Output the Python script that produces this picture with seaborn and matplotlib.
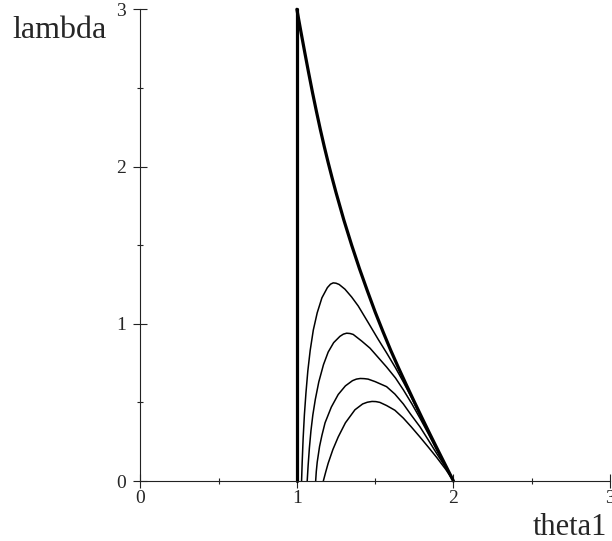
import matplotlib
matplotlib.use('Agg')
import matplotlib.pyplot as plt
import seaborn as sns
from matplotlib.ticker import FixedLocator

sns.set_style('white')
plt.rcParams['font.family'] = ['Liberation Serif', 'DejaVu Serif']

# ---------------- data ----------------
wall_theta = [1.0, 1.0]
wall_lambda = [0.0, 3.0]

env_theta = [1.000, 1.025, 1.050, 1.075, 1.100, 1.125, 1.150, 1.175, 1.200, 1.225,
             1.250, 1.300, 1.350, 1.400, 1.450, 1.500, 1.550, 1.600, 1.650, 1.700,
             1.750, 1.800, 1.850, 1.900, 1.950, 2.000]
env_lambda = [3.000, 2.862, 2.728, 2.597, 2.470, 2.350, 2.235, 2.127, 2.025, 1.928,
              1.835, 1.660, 1.500, 1.350, 1.210, 1.075, 0.950, 0.830, 0.718, 0.610,
              0.504, 0.400, 0.298, 0.198, 0.099, 0.000]

a_theta = [1.030, 1.034, 1.040, 1.048, 1.058, 1.070, 1.085, 1.105, 1.130, 1.160,
           1.195, 1.215, 1.232, 1.250, 1.270, 1.307, 1.350, 1.392, 1.456, 1.520,
           1.573, 1.630, 1.680, 1.735, 1.786, 1.840, 1.893, 1.950, 2.000]
a_lambda = [0.00, 0.12, 0.27, 0.42, 0.56, 0.70, 0.83, 0.96, 1.07, 1.165,
            1.23, 1.252, 1.26, 1.258, 1.25, 1.22, 1.17, 1.113, 1.007, 0.90,
            0.815, 0.72, 0.63, 0.525, 0.42, 0.31, 0.205, 0.097, 0.00]

b_theta = [1.066, 1.072, 1.080, 1.090, 1.102, 1.118, 1.140, 1.170, 1.200, 1.235,
           1.275, 1.297, 1.318, 1.340, 1.360, 1.414, 1.467, 1.520, 1.573, 1.630,
           1.680, 1.735, 1.786, 1.840, 1.893, 1.950, 2.000]
b_lambda = [0.00, 0.10, 0.21, 0.32, 0.42, 0.52, 0.63, 0.74, 0.82, 0.88,
            0.92, 0.934, 0.94, 0.938, 0.932, 0.89, 0.845, 0.785, 0.725, 0.655,
            0.58, 0.49, 0.40, 0.30, 0.197, 0.095, 0.00]

c_theta = [1.120, 1.124, 1.130, 1.145, 1.160, 1.180, 1.220, 1.264, 1.310, 1.355,
           1.380, 1.405, 1.430, 1.455, 1.500, 1.573, 1.626, 1.680, 1.730, 1.786,
           1.840, 1.893, 1.950, 2.000]
c_lambda = [0.00, 0.06, 0.12, 0.22, 0.29, 0.37, 0.47, 0.55, 0.605, 0.638,
            0.648, 0.652, 0.651, 0.648, 0.632, 0.60, 0.553, 0.49, 0.42, 0.345,
            0.26, 0.175, 0.087, 0.00]

d_theta = [1.169, 1.177, 1.185, 1.200, 1.230, 1.264, 1.310, 1.371, 1.420, 1.450,
           1.480, 1.505, 1.530, 1.573, 1.626, 1.680, 1.730, 1.786, 1.840, 1.893,
           1.950, 2.000]
d_lambda = [0.00, 0.03, 0.06, 0.113, 0.20, 0.28, 0.37, 0.453, 0.49, 0.501,
            0.506, 0.505, 0.50, 0.48, 0.45, 0.40, 0.345, 0.28, 0.215, 0.15,
            0.075, 0.00]

major_ticks = [0, 1, 2, 3]
minor_ticks = [0.5, 1.5, 2.5]
x_label = 'theta1'
y_label = 'lambda'

# ---------------- figure ----------------
W, H = 612, 541
fig = plt.figure(figsize=(W / 100, H / 100), dpi=100)
x0, x3 = 140.3, 610.0
y0, y3 = 481.0, 9.3
ax = fig.add_axes([x0 / W, (H - y0) / H, (x3 - x0) / W, (y0 - y3) / H])
ax.set_facecolor('white')

thin = 1.1
thick = 2.3
for th, la, lw in [(a_theta, a_lambda, thin), (b_theta, b_lambda, thin),
                   (c_theta, c_lambda, thin), (d_theta, d_lambda, thin),
                   (env_theta, env_lambda, thick), (wall_theta, wall_lambda, thick)]:
    sns.lineplot(x=th, y=la, sort=False, estimator=None, color='black',
                 linewidth=lw, ax=ax, clip_on=False)

ax.set_xlim(0, 3)
ax.set_ylim(0, 3)
for s in ['top', 'right']:
    ax.spines[s].set_visible(False)
for s in ['left', 'bottom']:
    ax.spines[s].set_color('#222222')
    ax.spines[s].set_linewidth(0.8)

ax.xaxis.set_major_locator(FixedLocator(major_ticks))
ax.yaxis.set_major_locator(FixedLocator(major_ticks))
ax.xaxis.set_minor_locator(FixedLocator(minor_ticks))
ax.yaxis.set_minor_locator(FixedLocator(minor_ticks))
ax.set_xticklabels([str(t) for t in major_ticks])
ax.set_yticklabels([str(t) for t in major_ticks])
ax.tick_params(which='major', direction='inout', length=10, width=0.8,
               color='#222222', labelsize=14)
ax.tick_params(which='minor', direction='inout', length=5, width=0.8,
               color='#222222')
ax.tick_params(axis='x', which='major', pad=1.5, bottom=True)
ax.tick_params(axis='y', which='major', pad=5.5, left=True)
ax.tick_params(axis='x', which='minor', bottom=True)
ax.tick_params(axis='y', which='minor', left=True)
ax.set_xlabel('')
ax.set_ylabel('')

fig.text(107 / W, (H - 38) / H, y_label, ha='right', va='baseline', fontsize=23)
fig.text(533 / W, 6 / H, x_label, ha='left', va='baseline', fontsize=22)

fig.savefig('out.png', dpi=100, facecolor='white')
